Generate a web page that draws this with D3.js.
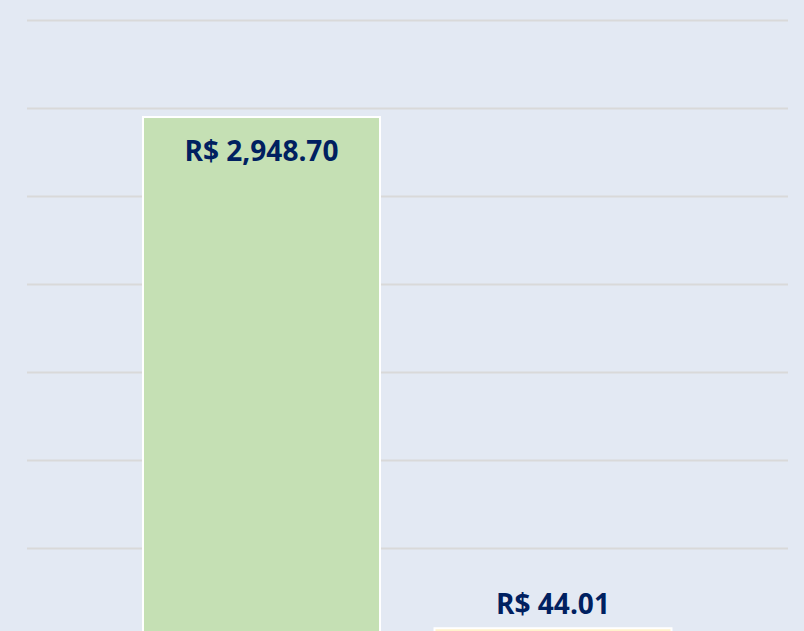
<!DOCTYPE html>
<html>
<head>
<meta charset="utf-8">
<script src="https://cdn.jsdelivr.net/npm/d3@7"></script>
<style>
  body { margin: 0; background: #e3e9f3; overflow: hidden; }
</style>
</head>
<body>
<div id="grafico"></div>
<script>
const categories = ["Receita", "Despesa"];
const values     = [2948.70, 44.01];
const barColors  = ["#c5e0b4", "#fff2cc"];
const gridTicks  = [0, 500, 1000, 1500, 2000, 2500, 3000, 3500];

const width  = 804;
const height = 631;

const svg = d3.select("#grafico")
              .append("svg")
              .attr("width", width)
              .attr("height", height);

svg.append("rect")
   .attr("width", width)
   .attr("height", height)
   .attr("fill", "#e3e9f3");

const yScale = d3.scaleLinear()
                 .domain([0, 3500])
                 .range([636, 20]);

const xScale = d3.scaleBand()
                 .domain(categories)
                 .range([115.75, 698.75])
                 .paddingInner(0.187)
                 .paddingOuter(0.0935);

// linhas de grade
svg.append("g")
   .attr("transform", "translate(788, 0)")
   .call(d3.axisRight(yScale).tickValues(gridTicks).tickSize(-(788 - 27)).tickFormat(""))
   .call(g => g.select(".domain").remove())
   .call(g => g.selectAll("line").attr("stroke", "#d9d9d9").attr("stroke-width", 2));

const data = categories.map((c, i) => ({ cat: c, value: values[i], color: barColors[i] }));

svg.selectAll("rect.bar")
   .data(data)
   .enter()
   .append("rect")
   .attr("class", "bar")
   .attr("x", d => xScale(d.cat))
   .attr("y", d => yScale(d.value))
   .attr("width", xScale.bandwidth())
   .attr("height", d => yScale(0) - yScale(d.value))
   .attr("fill", d => d.color)
   .attr("stroke", "#ffffff")
   .attr("stroke-width", 2);

const fmt = d => "R$ " + d3.format(",.2f")(d);

svg.selectAll("text.label")
   .data(data)
   .enter()
   .append("text")
   .attr("class", "label")
   .attr("x", d => xScale(d.cat) + xScale.bandwidth() / 2)
   .attr("y", d => d.value > 1000 ? yScale(d.value) + 44 : yScale(d.value) - 14)
   .attr("text-anchor", "middle")
   .attr("font-family", "'Open Sans', sans-serif")
   .attr("font-weight", "bold")
   .attr("font-size", "28px")
   .attr("fill", "#002060")
   .text(d => fmt(d.value));
</script>
</body>
</html>
